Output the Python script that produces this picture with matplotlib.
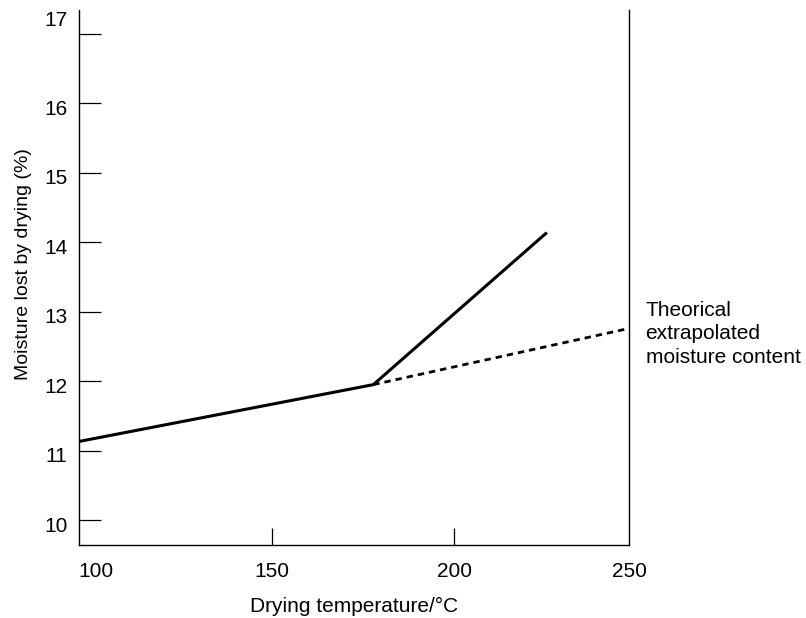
import matplotlib
matplotlib.use("Agg")
import matplotlib.pyplot as plt
from matplotlib.transforms import ScaledTranslation

# Data
measured_x = [97.1, 177.8, 225.3]
measured_y = [11.13, 11.95, 14.14]
extrap_x = [177.8, 247.8]
extrap_y = [11.95, 12.76]
y_ticks = [10, 11, 12, 13, 14, 15, 16, 17]
y_tick_labels = ["10", "11", "12", "13", "14", "15", "16", ""]
x_ticks = [97.1, 150, 200, 247.8]
x_tick_labels = ["100", "150", "200", "250"]

plt.rcParams['font.family'] = ['Liberation Sans', 'DejaVu Sans']

fig = plt.figure(figsize=(8.06, 6.18), dpi=100)
ax = fig.add_axes([0.0974, 0.1181, 0.6830, 0.8657])

ax.plot(measured_x, measured_y, color='black', lw=2.2, solid_capstyle='butt')
ax.plot(extrap_x, extrap_y, color='black', lw=2.0, linestyle=(0, (2.3, 1.8)))

ax.set_xlim(97.1, 247.8)
ax.set_ylim(9.64, 17.346)

ax.spines['top'].set_visible(False)
for s in ['left', 'right', 'bottom']:
    ax.spines[s].set_linewidth(1.0)

ax.set_yticks(y_ticks)
ax.set_yticklabels(y_tick_labels)
ax.set_xticks(x_ticks)
ax.set_xticklabels(x_tick_labels)
ax.tick_params(axis='y', direction='in', length=16, width=0.9, pad=8, labelsize=15)
ax.tick_params(axis='x', direction='in', length=12, width=0.9, pad=12, labelsize=15)

xt = ax.xaxis.get_major_ticks()
xt[0].tick1line.set_visible(False)
xt[-1].tick1line.set_visible(False)
xt[0].label1.set_horizontalalignment('left')

shift = ScaledTranslation(0, -4 / 100, fig.dpi_scale_trans)
for lab in ax.get_yticklabels():
    lab.set_transform(lab.get_transform() + shift)

ax.text(-0.02, 17.2, "17", transform=ax.get_yaxis_transform(), ha='right', va='center', fontsize=15)

ax.set_xlabel("Drying temperature/°C", fontsize=15)
ax.xaxis.set_label_coords(0.5, -0.097)
ax.set_ylabel("Moisture lost by drying (%)", fontsize=14)
ax.yaxis.set_label_coords(-0.085, 0.525)

ax.text(1.03, 12.68, "Theorical\nextrapolated\nmoisture content", transform=ax.get_yaxis_transform(),
        ha='left', va='center', fontsize=15, linespacing=1.33, clip_on=False)

fig.savefig("out.png", dpi=100)
